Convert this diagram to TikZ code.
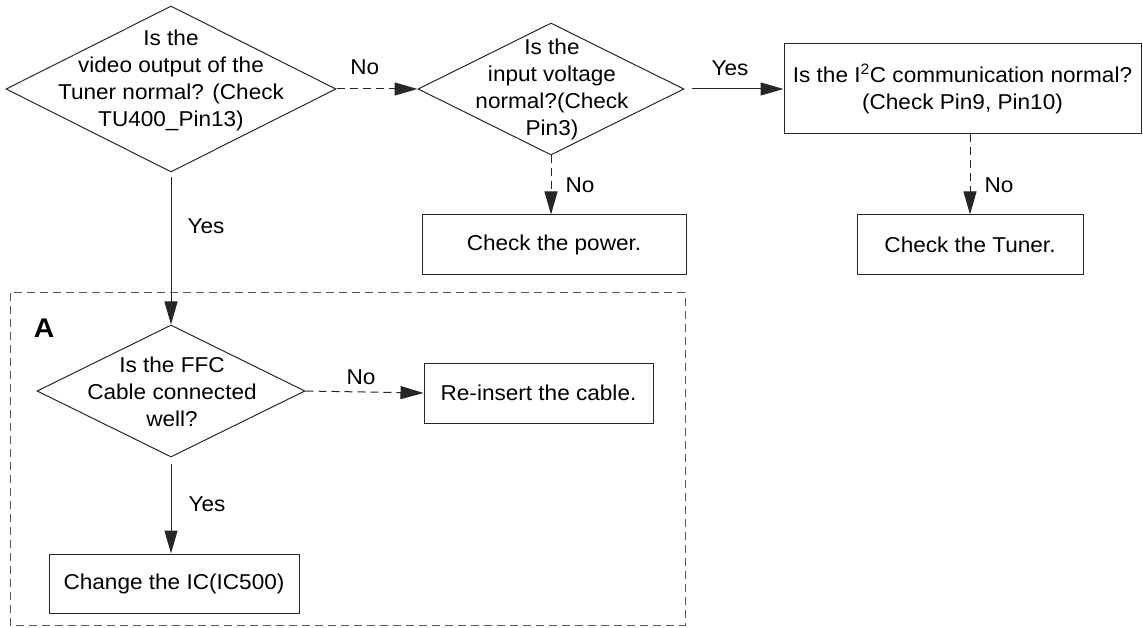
\documentclass[tikz,border=0pt]{standalone}
\usepackage{fontspec}
\setmainfont[FakeStretch=1.05]{Liberation Sans}
\usetikzlibrary{shapes.geometric,arrows.meta}

\begin{document}
\begin{tikzpicture}[x=1pt,y=-1pt,
    font=\fontsize{21.5pt}{27pt}\selectfont,
    decision/.style={diamond,draw=black!85,line width=1pt,inner sep=0pt},
    txt/.style={align=center,inner sep=0pt},
    actbox/.style={rectangle,draw=black!85,line width=1pt,align=center,inner sep=0pt},
    lbl/.style={inner sep=0pt},
    link/.style={draw=black!85,line width=1pt,-{Triangle[length=23pt,width=13pt]}},
    nolink/.style={link,dash pattern=on 8pt off 5pt},
    frame/.style={draw=black!65,line width=1pt,dash pattern=on 8pt off 5pt}]
        \useasboundingbox (0,0) rectangle (1143,628);
        % top row
        \node[decision,minimum width=330pt,minimum height=166pt] (q1) at (171,89) {};
        \node[txt] (q1t) at (171,80) {Is the\\video output of the\\Tuner normal? (Check\\TU400\_Pin13)};
        \node[decision,minimum width=266pt,minimum height=132pt] (q2) at (551,89) {};
        \node[txt] (q2t) at (552,89) {Is the\\input voltage\\normal?(Check\\Pin3)};
        \node[actbox,minimum width=357pt,minimum height=90pt] (r1) at (962.5,89) {Is the I\textsuperscript{2}C communication normal?\\(Check Pin9, Pin10)};
        \node[actbox,minimum width=264pt,minimum height=60pt] (p1) at (554,245) {Check the power.};
        \node[actbox,minimum width=226pt,minimum height=60pt] (r2) at (970,245) {Check the Tuner.};
        % block A
        \draw[frame] (10,293) rectangle (685,625);
        \node[font=\bfseries\fontsize{27pt}{30pt}\selectfont] (lblA) at (44,328) {A};
        \node[decision,minimum width=268pt,minimum height=132pt] (q3) at (171,391) {};
        \node[txt] (q3t) at (172,392) {Is the FFC\\Cable connected\\well?};
        \node[actbox,minimum width=229pt,minimum height=60pt] (r3) at (538.5,393) {Re-insert the cable.};
        \node[actbox,minimum width=250pt,minimum height=59pt] (c1) at (174,583.5) {Change the IC(IC500)};
        % connectors
        \draw[nolink] (q1.east) to node[lbl,pos=.35,above=14pt] {No} (q2.west);
        \draw[link,shorten <=7pt] (q2.east) to node[lbl,pos=.46,above=13pt] {Yes} (r1.west);
        \draw[nolink] (q2.south) to node[lbl,pos=.63,anchor=base west,xshift=14pt] {No} (q2.south |- p1.north);
        \draw[nolink] (r2.north |- r1.south) to node[lbl,pos=.73,anchor=base west,xshift=14pt] {No} (r2.north);
        \draw[link,shorten <=5pt] (q1.south) to node[lbl,pos=.40,anchor=base west,xshift=16pt] {Yes} (q3.north);
        \draw[nolink] (q3.east) to node[lbl,pos=.47,above=7pt] {No} (r3.west);
        \draw[link,shorten <=6pt] (q3.south) to node[lbl,pos=.56,anchor=base west,xshift=17pt] {Yes} (q3.south |- c1.north);
    \end{tikzpicture}
\end{document}
